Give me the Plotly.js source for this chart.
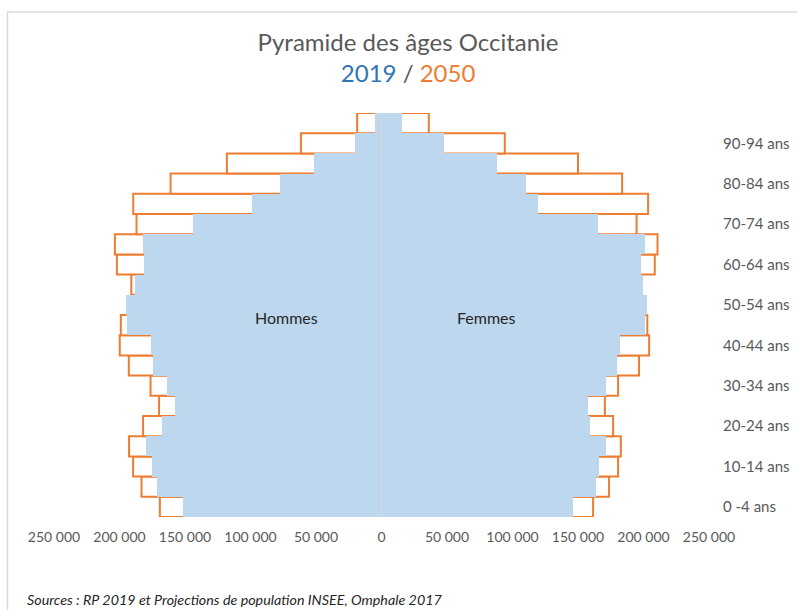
<!DOCTYPE html>
<html>
<head>
<meta charset="utf-8">
<script src="https://cdn.plot.ly/plotly-3.0.1.min.js"></script>
<style>
html,body{margin:0;padding:0;background:#ffffff;}
#chart{width:797px;height:610px;}
</style>
</head>
<body>
<div id="chart"></div>
<script>
// Age groups, bottom to top
const ageGroups = ["0-4","5-9","10-14","15-19","20-24","25-29","30-34","35-39","40-44","45-49",
                   "50-54","55-59","60-64","65-69","70-74","75-79","80-84","85-89","90-94","95+"];
const tickGroups = ["0-4","10-14","20-24","30-34","40-44","50-54","60-64","70-74","80-84","90-94"];
const tickLabels = ["0 -4 ans","10-14 ans","20-24 ans","30-34 ans","40-44 ans","50-54 ans",
                    "60-64 ans","70-74 ans","80-84 ans","90-94 ans"];

// Population (persons)
const hommes2019 = [151900,171300,175300,180000,167200,157600,163700,174400,175600,194000,
                    194800,188000,181500,182000,144000,98500,77600,51400,20200,4900];
const hommes2050 = [169200,183200,189600,192700,182000,169800,176300,192900,199800,199000,
                    190000,191000,202000,203500,187000,189500,161000,118000,61500,18600];
const femmes2019 = [145800,163600,166100,171200,159500,157700,171200,179800,181900,201500,
                    203000,199700,198000,201200,164900,119500,110000,88000,47600,16000];
const femmes2050 = [161500,173700,180600,182700,176800,170500,180600,196600,204300,202900,
                    199000,196000,208600,210700,194700,203500,183700,150000,94100,36100];

const xTickVals = [-250000,-200000,-150000,-100000,-50000,0,50000,100000,150000,200000,250000];
const xTickText = ["250 000","200 000","150 000","100 000","50 000","0",
                   "50 000","100 000","150 000","200 000","250 000"];

const FONT = "Lato, 'Open Sans', sans-serif";
const ORANGE = "#ED7D31";
const BLUE_FILL = "#BDD7EE";

const outline = {color: "#FFFFFF", line: {color: ORANGE, width: 2}};
const filled = {color: BLUE_FILL, line: {width: 0}};

const traces = [
  {type:"bar", orientation:"h", name:"Hommes 2050", y:ageGroups, x:hommes2050.map(v=>-v), marker:outline},
  {type:"bar", orientation:"h", name:"Femmes 2050", y:ageGroups, x:femmes2050, marker:outline},
  {type:"bar", orientation:"h", name:"Hommes 2019", y:ageGroups, x:hommes2019.map(v=>-v), marker:filled},
  {type:"bar", orientation:"h", name:"Femmes 2019", y:ageGroups, x:femmes2019, marker:filled}
];

const layout = {
  width: 797, height: 610,
  margin: {l:54, r:88, t:113, b:93, pad:0},
  paper_bgcolor: "#FFFFFF", plot_bgcolor: "#FFFFFF",
  barmode: "overlay", bargap: 0,
  showlegend: false,
  font: {family: FONT, color: "#595959", size: 14},
  title: {
    text: "Pyramide des âges Occitanie<br><span style='color:#2E75B6'>2019</span> / <span style='color:#ED7D31'>2050</span>",
    font: {family: FONT, size: 24, color: "#595959"},
    xref: "container", x: 0.512, xanchor: "center",
    yref: "container", y: 0.917, yanchor: "top"
  },
  xaxis: {
    range: [-250000, 250000],
    tickmode: "array", tickvals: xTickVals, ticktext: xTickText,
    showgrid: false, zeroline: false, showline: false, ticks: "",
    ticklabelstandoff: 10,
    tickfont: {family: FONT, size: 14, color: "#595959"},
    fixedrange: true
  },
  yaxis: {
    type: "category", categoryorder: "array", categoryarray: ageGroups,
    side: "right",
    tickmode: "array", tickvals: tickGroups, ticktext: tickLabels,
    showgrid: false, zeroline: false, showline: false, ticks: "",
    ticklabelstandoff: 13,
    tickfont: {family: FONT, size: 15, color: "#595959"},
    fixedrange: true
  },
  shapes: [
    {type:"line", xref:"x", yref:"paper", x0:0, x1:0, y0:0, y1:1,
     line:{color:"#D9D9D9", width:1}, layer:"above"},
    {type:"rect", xref:"paper", yref:"paper", x0:-0.071, x1:1.3, y0:-0.4, y1:1.25,
     line:{color:"#D9D9D9", width:1.5}, fillcolor:"rgba(0,0,0,0)", layer:"below"}
  ],
  annotations: [
    {text:"Hommes", xref:"x", yref:"paper", x:-72700, y:0.4926, showarrow:false,
     xanchor:"center", yanchor:"middle", font:{family:FONT, size:16, color:"#262626"}},
    {text:"Femmes", xref:"x", yref:"paper", x:80400, y:0.4926, showarrow:false,
     xanchor:"center", yanchor:"middle", font:{family:FONT, size:16, color:"#262626"}},
    {text:"<i>Sources : RP 2019 et Projections de population INSEE, Omphale 2017</i>",
     xref:"paper", yref:"paper", x:-0.0443, y:-0.2054, showarrow:false,
     xanchor:"left", yanchor:"middle", font:{family:FONT, size:14.3, color:"#262626"}}
  ]
};

Plotly.newPlot("chart", traces, layout, {staticPlot:true, displayModeBar:false});
</script>
</body>
</html>
